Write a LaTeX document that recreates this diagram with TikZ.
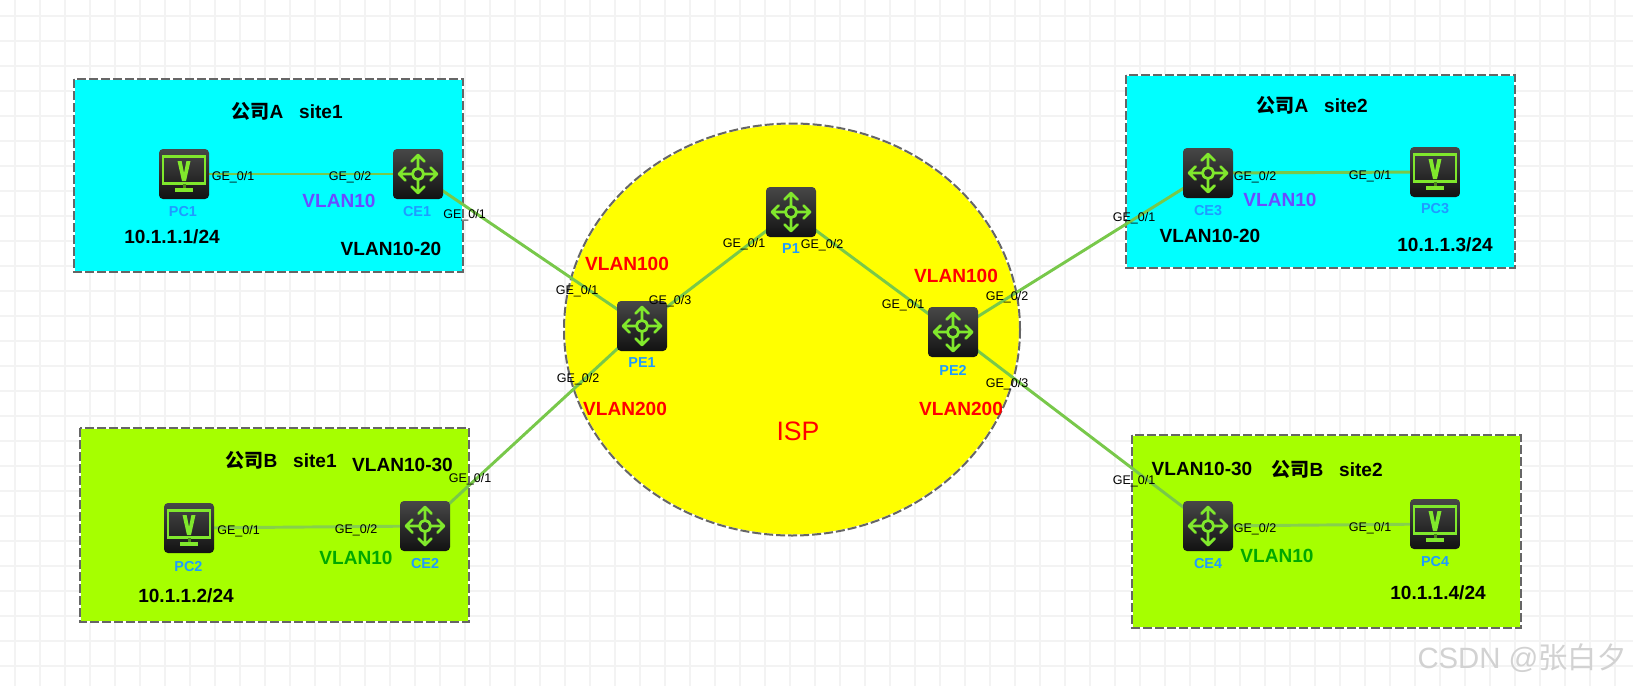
\documentclass[tikz,border=0pt]{standalone}
\usepackage{fontspec}
\setmainfont{Liberation Sans}
\newfontfamily\cjk{Noto Sans CJK SC}
\usetikzlibrary{backgrounds}
\definecolor{gridc}{HTML}{F3F3F3}
\definecolor{cyanbox}{HTML}{00FFFF}
\definecolor{limebox}{HTML}{A6FF00}
\definecolor{ispc}{HTML}{FFFF00}
\definecolor{borderc}{HTML}{666666}
\definecolor{linkc}{HTML}{78C84A}
\definecolor{linkl}{HTML}{86D04C}
\definecolor{iconc}{HTML}{80E82C}
\definecolor{devlbl}{HTML}{1E9BFF}
\definecolor{vlanp}{HTML}{6A4CFF}
\definecolor{vlang}{HTML}{00A800}
\definecolor{wm}{HTML}{D2D2D2}
\pgfdeclarelayer{back}
\pgfdeclarelayer{links}
\pgfsetlayers{back,links,main}
\newcommand{\routericon}{%
  \begin{scope}[sharp corners,shift={(path picture bounding box.center)},x=.75pt,y=.75pt,draw=iconc,line width=2.1pt,line cap=round,line join=round]
    \draw (0,0) circle (5.6);
    \draw (5.6,0)--(19,0) (12.5,6.5)--(19,0)--(12.5,-6.5);
    \draw (-5.6,0)--(-19,0) (-12.5,6.5)--(-19,0)--(-12.5,-6.5);
    \draw (0,5.6)--(0,19) (6.5,12.5)--(0,19)--(-6.5,12.5);
    \draw (0,-5.6)--(0,-19) (6.5,-12.5)--(0,-19)--(-6.5,-12.5);
  \end{scope}}
\newcommand{\pcicon}{%
  \begin{scope}[sharp corners,shift={(path picture bounding box.center)},x=.75pt,y=.75pt,draw=iconc,fill=iconc,line width=1.6pt]
    \draw (-21,-9.5) rectangle (21,17.5);
    \fill (-6.5,13)--(-2.4,13)--(0,1)--(2.4,13)--(6.5,13)--(2,-7)--(-2,-7)--cycle;
    \fill[iconc!60!black] (-1.5,-10) rectangle (1.5,-13.5);
    \fill (-9,-13.5) -- (9,-13.5) -- (9,-17.5) -- (-9,-17.5) -- cycle;
  \end{scope}}
\tikzset{
  x=.75pt,y=-.75pt,
  devbase/.style={rectangle,rounded corners=3pt,minimum size=37.5pt,inner sep=0pt,top color=black!72,bottom color=black!93,draw=none},
  routerdev/.style={devbase,path picture={\routericon}},
  pcdev/.style={devbase,path picture={\pcicon}},
  sitebox/.style={postaction={draw=white,line width=1.5pt},postaction={draw=borderc,line width=1.5pt,dash pattern=on 6.75pt off 2.25pt}},
  ge/.style={inner sep=0pt,yshift=-.8pt,font=\fontsize{9.4}{11}\selectfont,text=black},
  devl/.style={inner sep=0pt,font=\fontsize{10.8}{12}\selectfont\bfseries,text=devlbl},
  bold/.style={inner sep=0pt,font=\fontsize{14.3}{16}\selectfont\bfseries,text=black},
  vlred/.style={bold,text=red},
  vlpur/.style={bold,text=vlanp},
  vlgrn/.style={bold,text=vlang},
  link/.style={draw=linkc,line width=2.2pt},
  linklime/.style={draw=linkl,line width=2.2pt},
}
\begin{document}
\begin{tikzpicture}
\useasboundingbox (0,0) rectangle (1633,686);
\begin{pgfonlayer}{back}
  \fill[white] (0,0) rectangle (1633,686);
  \foreach \i in {0,...,64} {\draw[gridc,line width=1.7pt] ({15+25*\i},0) -- ({15+25*\i},686);}
  \foreach \i in {0,...,26} {\draw[gridc,line width=1.7pt] (0,{16+25*\i}) -- (1633,{16+25*\i});}
  \path[sitebox,fill=cyanbox] (74,79) rectangle (463,272);
  \path[sitebox,fill=cyanbox] (1126,75) rectangle (1515,268);
  \path[sitebox,fill=limebox] (80,428) rectangle (469,622);
  \path[sitebox,fill=limebox] (1132,435) rectangle (1521,628);
  \path[sitebox,fill=ispc] (792,329.5) ellipse [x radius=228,y radius=206];
\end{pgfonlayer}

\node[pcdev] (PC1) at (184,174) {};
\node[routerdev] (CE1) at (418,174) {};
\node[routerdev] (P1) at (791,212) {};
\node[routerdev] (PE1) at (642,326) {};
\node[routerdev] (PE2) at (953,332) {};
\node[routerdev] (CE3) at (1208,173) {};
\node[pcdev] (PC3) at (1435,172) {};
\node[routerdev] (CE2) at (425,526) {};
\node[pcdev] (PC2) at (189,528) {};
\node[routerdev] (CE4) at (1208,526) {};
\node[pcdev] (PC4) at (1435,524) {};

\begin{pgfonlayer}{links}
  \draw[link] (PC1.center) -- (CE1.center);
  \draw[link] (CE1.center) -- (PE1.center);
  \draw[link] (PE1.center) -- (P1.center);
  \draw[link] (P1.center) -- (PE2.center);
  \draw[link] (PE2.center) -- (CE3.center);
  \draw[link] (CE3.center) -- (PC3.center);
  \draw[link] (PE1.center) -- (CE2.center);
  \draw[linklime] (CE2.center) -- (PC2.center);
  \draw[link] (PE2.center) -- (CE4.center);
  \draw[linklime] (CE4.center) -- (PC4.center);
\end{pgfonlayer}

% site titles
\node[bold] (t1) at (287,111) {{\cjk 公司}A\ \ \ site1};
\node[bold] (t2) at (1312,105) {{\cjk 公司}A\ \ \ site2};
\node[bold] (t3) at (281,460) {{\cjk 公司}B\ \ \ site1};
\node[bold] (t4) at (1327,469) {{\cjk 公司}B\ \ \ site2};
% device labels
\node[devl] (lPC1) at (183,212) {PC1};
\node[devl] (lCE1) at (417,212) {CE1};
\node[devl] (lP1) at (791,249) {P1};
\node[devl] (lPE1) at (642,363) {PE1};
\node[devl] (lPE2) at (953,370) {PE2};
\node[devl] (lCE3) at (1208,211) {CE3};
\node[devl] (lPC3) at (1435,209) {PC3};
\node[devl] (lCE2) at (425,563.5) {CE2};
\node[devl] (lPC2) at (188.5,566.5) {PC2};
\node[devl] (lCE4) at (1208,563.5) {CE4};
\node[devl] (lPC4) at (1435,562) {PC4};
% interface labels
\node[ge] (g1) at (233,176) {GE\_0/1};
\node[ge] (g2) at (350,176) {GE\_0/2};
\node[ge] (g3) at (464.5,214.5) {GE\_0/1};
\node[ge] (g4) at (577,290) {GE\_0/1};
\node[ge] (g5) at (670,300) {GE\_0/3};
\node[ge] (g6) at (744,243) {GE\_0/1};
\node[ge] (g7) at (822,244) {GE\_0/2};
\node[ge] (g8) at (578,378) {GE\_0/2};
\node[ge] (g9) at (903,304) {GE\_0/1};
\node[ge] (g10) at (1007,296) {GE\_0/2};
\node[ge] (g11) at (1007,383) {GE\_0/3};
\node[ge] (g12) at (1134,217) {GE\_0/1};
\node[ge] (g13) at (1255,176) {GE\_0/2};
\node[ge] (g14) at (1370,175) {GE\_0/1};
\node[ge] (g15) at (470,478) {GE\_0/1};
\node[ge] (g16) at (238.5,530) {GE\_0/1};
\node[ge] (g17) at (356,529) {GE\_0/2};
\node[ge] (g18) at (1134,480) {GE\_0/1};
\node[ge] (g19) at (1255,528) {GE\_0/2};
\node[ge] (g20) at (1370,527) {GE\_0/1};
% vlan and addresses
\node[vlpur] (v1) at (339,201) {VLAN10};
\node[vlpur] (v2) at (1280,200) {VLAN10};
\node[vlgrn] (v3) at (356,558) {VLAN10};
\node[vlgrn] (v4) at (1277,556) {VLAN10};
\node[bold] (v5) at (391,249) {VLAN10-20};
\node[bold] (v6) at (1210,236) {VLAN10-20};
\node[bold] (v7) at (402.5,464.5) {VLAN10-30};
\node[bold] (v8) at (1202,469) {VLAN10-30};
\node[vlred] (v9) at (627,264) {VLAN100};
\node[vlred] (v10) at (956,276) {VLAN100};
\node[vlred] (v11) at (625,409) {VLAN200};
\node[vlred] (v12) at (961,409) {VLAN200};
\node[bold] (a1) at (172,237) {10.1.1.1/24};
\node[bold] (a2) at (186,596) {10.1.1.2/24};
\node[bold] (a3) at (1445,245) {10.1.1.3/24};
\node[bold] (a4) at (1438,593) {10.1.1.4/24};
\node[inner sep=0pt,font=\fontsize{20}{22}\selectfont,text=red] (isp) at (798,431) {ISP};
\node[inner sep=0pt,font=\fontsize{22}{24}\selectfont,text=wm] (wmk) at (1522,658) {CSDN @{\cjk 张白夕}};
\end{tikzpicture}
\end{document}
